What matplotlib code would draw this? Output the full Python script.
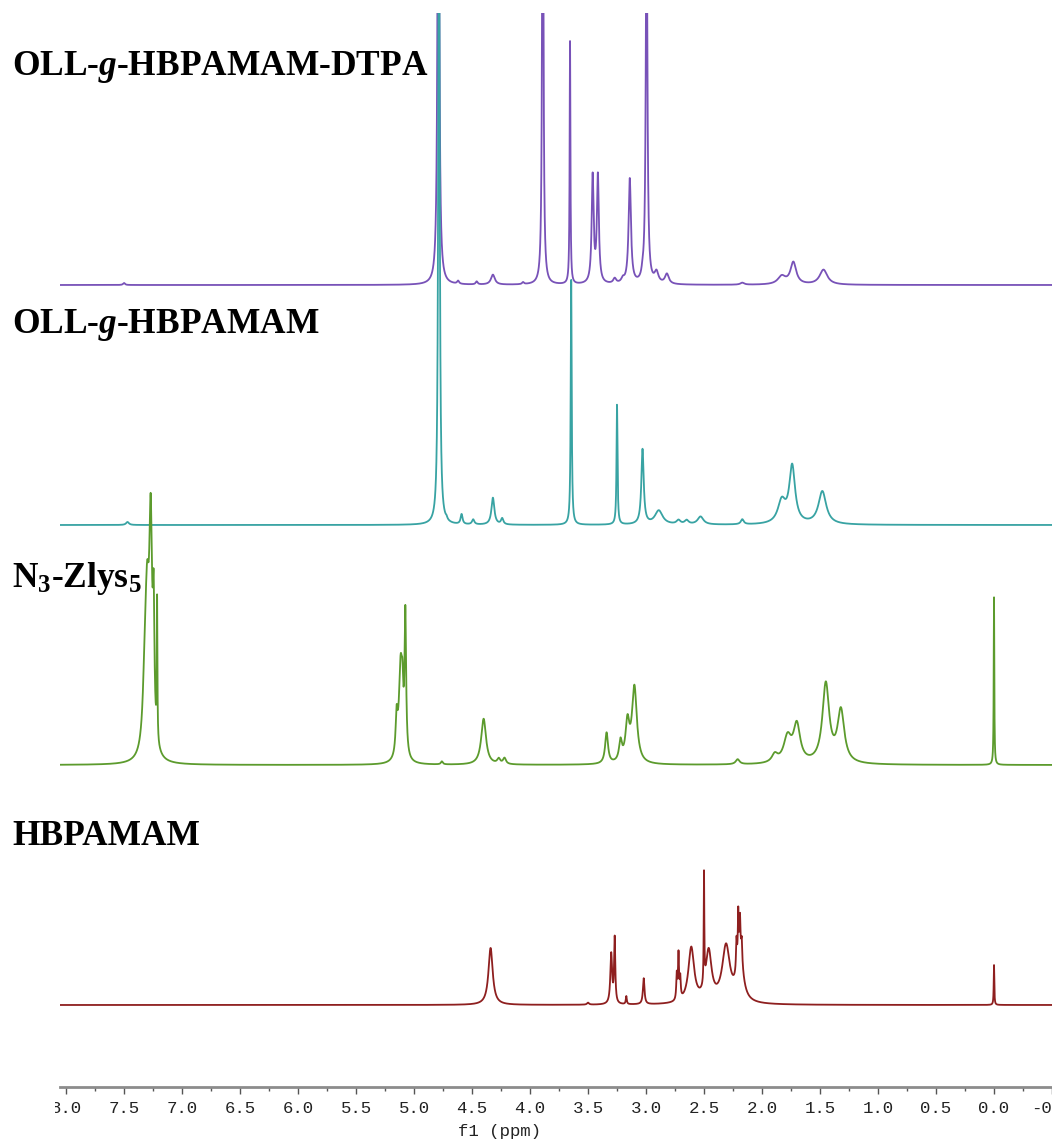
import numpy as np
import matplotlib
matplotlib.use("Agg")
import matplotlib.pyplot as plt
from matplotlib.ticker import MultipleLocator, FormatStrFormatter
from matplotlib.patches import Rectangle

# ---------------- data (peak lists) ----------------
# chemical shift (ppm), intensity (arb., px-scale), half width (ppm)
dtpa_ppm   = [7.50, 4.790, 4.62, 4.46, 4.32, 4.06, 3.890, 3.655, 3.460, 3.415, 3.27, 3.20, 3.14, 3.03, 2.995, 2.91, 2.82, 2.17, 1.83, 1.73, 1.47]
dtpa_int   = [2,    600,   3,    3,    10,   2,    600,   243,   107,   107,   5,    4,    105,  5,    400,   11,   10,   2,    8,    22,   15]
dtpa_width = [0.01, 0.008, 0.01, 0.01, 0.02, 0.01, 0.006, 0.004, 0.010, 0.010, 0.015,0.015,0.012,0.01, 0.008, 0.02, 0.02, 0.02, 0.04, 0.03, 0.04]

oll_ppm    = [7.47, 4.785, 4.72, 4.59, 4.49, 4.32, 4.24, 3.645, 3.25, 3.03, 2.89, 2.72, 2.65, 2.53, 2.17, 1.83, 1.74, 1.48]
oll_int    = [3,    700,   2,    10,   5,    27,   6,    245,   120,  75,   14,   4,    4,    8,    5,    22,   57,   33]
oll_width  = [0.015,0.007, 0.008,0.010,0.012,0.015,0.012,0.005, 0.005,0.012,0.04, 0.02, 0.02, 0.03, 0.015,0.04, 0.03, 0.04]

n3_ppm     = [7.32, 7.30, 7.27, 7.245, 7.215, 5.15, 5.115, 5.10, 5.075, 4.76, 4.40, 4.27, 4.22, 3.34, 3.22, 3.16, 3.10, 2.21, 1.89, 1.78, 1.70, 1.45, 1.32, 0.00]
n3_int     = [60,   130,  212,  118,   140,   38,   95,    35,   140,   3,    46,   5,    6,    31,   20,   38,   76,   5,    8,    25,   37,   79,   52,   168]
n3_width   = [0.02, 0.02, 0.015,0.008, 0.003, 0.010,0.018, 0.008,0.008, 0.01, 0.025,0.015,0.015,0.015,0.015,0.02, 0.025,0.02, 0.03, 0.04, 0.035,0.035,0.035,0.003]

hb_ppm     = [4.34, 3.50, 3.30, 3.27, 3.17, 3.02, 2.735, 2.72, 2.705, 2.61, 2.50, 2.46, 2.31, 2.22, 2.205, 2.19, 2.19, 2.175, 0.00]
hb_int     = [57,   2,    50,   65,   8,    26,   25,    45,   20,    55,   110,  50,   56,   30,   45,    30,   50,   20,    40]
hb_width   = [0.022,0.01, 0.009,0.006,0.005,0.008,0.005, 0.005,0.005, 0.03, 0.003,0.03, 0.04, 0.005,0.004, 0.004,0.03, 0.005, 0.003]

names = ["OLL-$\\mathit{g}$-HBPAMAM-DTPA", "OLL-$\\mathit{g}$-HBPAMAM", "N$_3$-Zlys$_5$", "HBPAMAM"]

# ---------------- layout / style ----------------
W, H = 1052, 1142
ax_left_px, ax_right_px, ax_top_px, ax_bottom_px = 60, 1052, 13, 1087
ppm_left, ppm_right = 8.052, -0.50
offsets = [802, 562, 322, 82]          # baselines (px above the axis line)
colors = ["#7852b8", "#38a3a3", "#5c9b2d", "#8e1f1f"]
label_baseline_px = [75, 333, 587, 845]

plt.rcParams['mathtext.fontset'] = 'custom'
plt.rcParams['mathtext.rm'] = 'Liberation Serif:bold'
plt.rcParams['mathtext.it'] = 'Liberation Serif:italic:bold'
plt.rcParams['mathtext.bf'] = 'Liberation Serif:bold'
plt.rcParams['axes.unicode_minus'] = False

fig = plt.figure(figsize=(W / 100, H / 100), dpi=100)
ax = fig.add_axes([ax_left_px / W, (H - ax_bottom_px) / H,
                   (ax_right_px - ax_left_px) / W, (ax_bottom_px - ax_top_px) / H])

x = np.linspace(ppm_left, ppm_right, 18000)


def spectrum(pos, amp, wid):
    y = np.zeros_like(x)
    for p, a, w in zip(pos, amp, wid):
        y += a * w ** 2 / ((x - p) ** 2 + w ** 2)
    return y


spectra = [(dtpa_ppm, dtpa_int, dtpa_width),
           (oll_ppm, oll_int, oll_width),
           (n3_ppm, n3_int, n3_width),
           (hb_ppm, hb_int, hb_width)]

for i, (pos, amp, wid) in enumerate(spectra):
    ax.plot(x, spectrum(pos, amp, wid) + offsets[i], color=colors[i], lw=1.3,
            zorder=2 + i, solid_joinstyle='round')

ax.set_xlim(ppm_left, ppm_right)
ax.set_ylim(0, ax_bottom_px - ax_top_px)

for s in ['top', 'left', 'right']:
    ax.spines[s].set_visible(False)
ax.spines['bottom'].set_color('#8c8c8c')
ax.spines['bottom'].set_linewidth(2.0)
ax.set_yticks([])
ax.xaxis.set_major_locator(MultipleLocator(0.5))
ax.xaxis.set_minor_locator(MultipleLocator(0.25))
ax.xaxis.set_major_formatter(FormatStrFormatter('%.1f'))
ax.tick_params(axis='x', which='major', direction='out', length=5, width=1.0,
               color='#555555', pad=5, labelsize=12.5, labelcolor='#222222')
ax.tick_params(axis='x', which='minor', direction='out', length=3, width=1.0,
               color='#555555')
for lbl in ax.get_xticklabels():
    lbl.set_fontfamily('Liberation Mono')

ax.set_xlabel('f1 (ppm)', fontfamily='Liberation Mono', fontsize=12.5, color='#222222')
ax.xaxis.set_label_coords((500 - ax_left_px) / (ax_right_px - ax_left_px),
                          -(1124 - ax_bottom_px) / (ax_bottom_px - ax_top_px))
ax.xaxis.label.set_va('top')

# white mask: the picture is cut just left of the spectra
mask_px = 55
fig.add_artist(Rectangle((0, 0), mask_px / W, (H - ax_bottom_px - 4) / H,
                         transform=fig.transFigure, facecolor='white',
                         edgecolor='none', zorder=5))

for name, yb in zip(names, label_baseline_px):
    fig.text(12 / W, 1 - yb / H, name, fontfamily='Liberation Serif',
             fontweight='bold', fontsize=25.5, ha='left', va='baseline',
             color='black', zorder=10)

fig.savefig('out.png', dpi=100, facecolor='white')
